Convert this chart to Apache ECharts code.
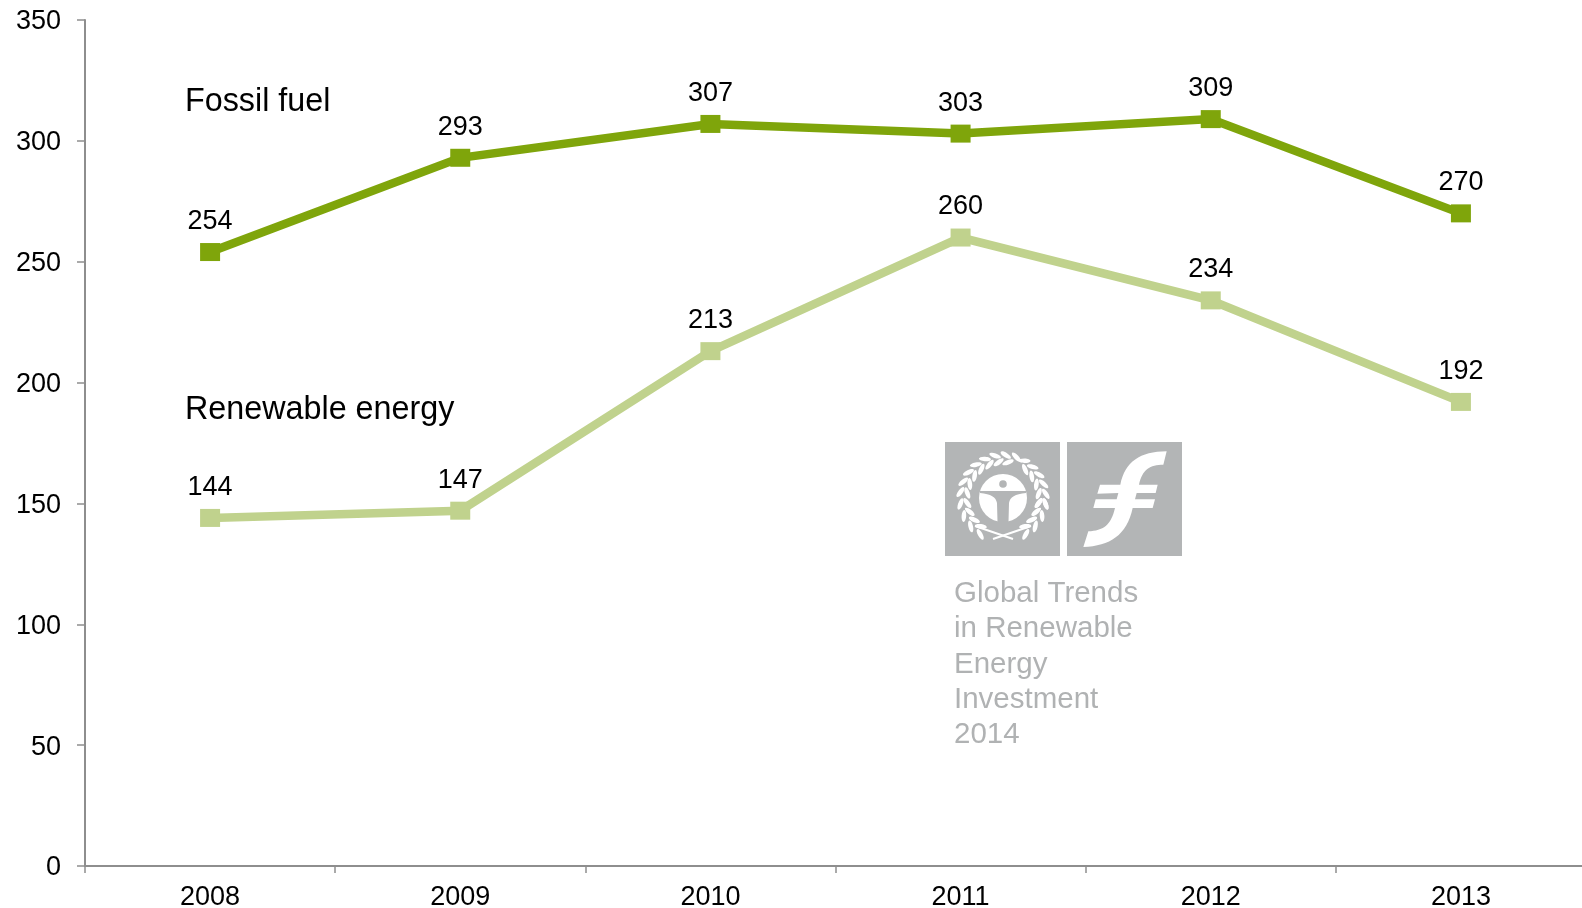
<!DOCTYPE html>
<html><head><meta charset="utf-8">
<style>html,body{margin:0;padding:0;background:#fff}#c{width:1582px;height:908px}</style>
<script src="https://cdn.jsdelivr.net/npm/echarts@6/dist/echarts.min.js"></script>
</head><body><div id="c"></div>
<script>
const categories=['2008','2009','2010','2011','2012','2013'];
const fossilFuel=[254,293,307,303,309,270];
const renewableEnergy=[144,147,213,260,234,192];
const yTicks=[0,50,100,150,200,250,300,350];
const fontFamily='"Liberation Sans",Arial,sans-serif';
const axisColor='#8e8e8e', logoGray='#b3b5b6';
echarts.graphic.registerShape('fundSign',echarts.graphic.extendPath('M305 28 L295 68 C255 68 232 82 222 128 L278 128 L272 153 L215 153 L210 172 L270 172 L263 198 L203 198 C185 280 135 312 55 315 L70 268 C115 266 138 250 150 198 L85 198 L92 172 L155 172 L160 153 L97 155 L105 128 L166 128 C180 60 225 28 305 28 Z',{}));
echarts.graphic.registerShape('unepFigure',echarts.graphic.extendPath('M980 491 L1026 491 L1026 493 C1015 494 1010 497 1009 503 L1008.5 522 L997.5 522 L997 503 C996 497 991 494 980 493 Z',{}));
const chart=echarts.init(document.getElementById('c'),null,{renderer:'canvas'});
function series(name,data,color){return{
  name,type:'line',data,symbol:'rect',symbolSize:[20,18],showSymbol:true,
  lineStyle:{color,width:8.5,cap:'butt',join:'miter'},itemStyle:{color},
  label:{show:true,position:'top',distance:8,color:'#000',fontSize:27,fontFamily},
  animation:false,z:3};}
// decorative laurel of the logo
function leaves(from,to,count,r,tilt){
  const out=[];
  for(let i=0;i<count;i++){
    const a=(from+(to-from)*i/(count-1))*Math.PI/180;
    out.push({type:'ellipse',
      x:1003+r*Math.cos(a),y:498+r*Math.sin(a),rotation:-a-Math.PI/2+tilt,
      shape:{cx:0,cy:0,rx:6,ry:2.3},style:{fill:'#fff'}});
  }
  return out;
}
const laurel=[
  ...leaves(-72,-172,8,43,-0.5),...leaves(-82,-172,7,36,0.5),
  ...leaves(172,122,4,43,-0.5),...leaves(172,128,4,36,0.5),
  ...leaves(-60,8,6,43,0.5),...leaves(-52,8,5,36,-0.5),
  ...leaves(8,58,4,43,0.5),...leaves(8,52,4,36,-0.5),
  {type:'line',shape:{x1:975,y1:526,x2:1013,y2:539},style:{stroke:'#fff',lineWidth:2}},
  {type:'line',shape:{x1:1031,y1:526,x2:993,y2:539},style:{stroke:'#fff',lineWidth:2}}
];
chart.setOption({
  animation:false,backgroundColor:'#fff',
  grid:{left:85,top:20,width:1501,height:846,containLabel:false,outerBoundsMode:'none'},
  xAxis:{type:'category',data:categories,boundaryGap:true,
    axisLine:{show:true,onZero:false,lineStyle:{color:axisColor,width:2}},
    axisTick:{show:true,alignWithLabel:false,length:7,lineStyle:{color:axisColor,width:1.5}},
    axisLabel:{color:'#000',fontSize:27,fontFamily,margin:18,interval:0},splitLine:{show:false}},
  yAxis:{type:'value',min:0,max:350,interval:50,
    axisLine:{show:true,lineStyle:{color:axisColor,width:2}},
    axisTick:{show:true,length:8,lineStyle:{color:axisColor,width:1.5}},
    axisLabel:{color:'#000',fontSize:27,fontFamily,margin:24,
      formatter:v=>yTicks.includes(v)?'{a|'+v+'}':'',
      rich:{a:{color:'#000',fontSize:27,fontFamily,padding:[4,0,0,0]}}},splitLine:{show:false}},
  series:[series('Fossil fuel',fossilFuel,'#7fa50b'),series('Renewable energy',renewableEnergy,'#c0d28d')],
  graphic:[
    {type:'text',x:185,y:86,style:{text:'Fossil fuel',font:'32.3px '+fontFamily,fill:'#000'}},
    {type:'text',x:185,y:394,style:{text:'Renewable energy',font:'32.3px '+fontFamily,fill:'#000'}},
    {type:'rect',shape:{x:945,y:442,width:115,height:114},style:{fill:logoGray}},
    {type:'rect',shape:{x:1067,y:442,width:115,height:114},style:{fill:logoGray}},
    ...laurel,
    {type:'circle',shape:{cx:1003,cy:498,r:24},style:{fill:'#fff'}},
    {type:'circle',shape:{cx:1003,cy:484,r:3.8},style:{fill:logoGray}},
    {type:'unepFigure',x:0,y:0,style:{fill:logoGray}},
    {type:'fundSign',x:1065,y:442,scaleX:1/3,scaleY:1/3,style:{fill:'#fff'}},
    {type:'text',x:954,y:576,style:{text:'Global Trends\nin Renewable\nEnergy\nInvestment\n2014',font:'29.5px '+fontFamily,lineHeight:35.4,fill:'#b0b2b3'}}
  ]
});
</script></body></html>
